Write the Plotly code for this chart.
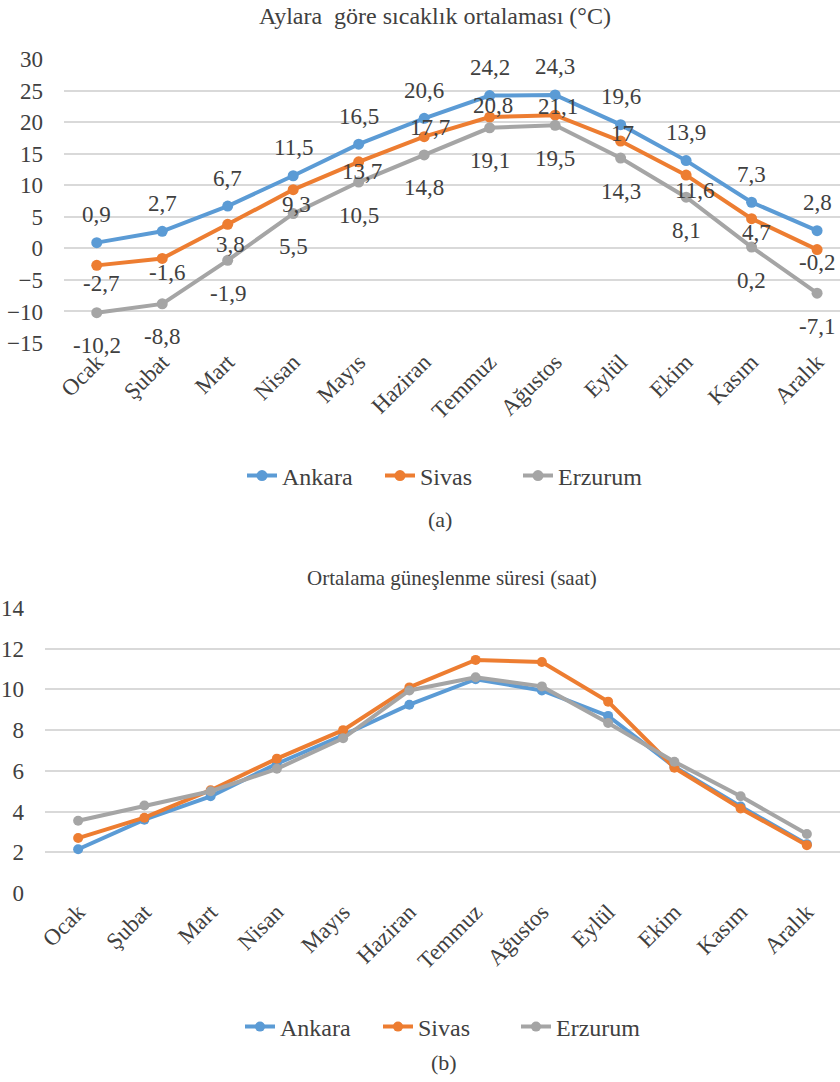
import plotly.graph_objects as go

months = ["Ocak", "Şubat", "Mart", "Nisan", "Mayıs", "Haziran", "Temmuz",
          "Ağustos", "Eylül", "Ekim", "Kasım", "Aralık"]

temp_ankara = [0.9, 2.7, 6.7, 11.5, 16.5, 20.6, 24.2, 24.3, 19.6, 13.9, 7.3, 2.8]
temp_sivas = [-2.7, -1.6, 3.8, 9.3, 13.7, 17.7, 20.8, 21.1, 17, 11.6, 4.7, -0.2]
temp_erzurum = [-10.2, -8.8, -1.9, 5.5, 10.5, 14.8, 19.1, 19.5, 14.3, 8.1, 0.2, -7.1]

sun_ankara = [2.15, 3.6, 4.75, 6.35, 7.75, 9.25, 10.5, 9.95, 8.7, 6.2, 4.25, 2.4]
sun_sivas = [2.7, 3.7, 5.05, 6.6, 8.0, 10.1, 11.45, 11.35, 9.4, 6.15, 4.15, 2.35]
sun_erzurum = [3.55, 4.3, 5.0, 6.1, 7.6, 9.95, 10.6, 10.15, 8.35, 6.45, 4.75, 2.9]

temp_ticks = [-15, -10, -5, 0, 5, 10, 15, 20, 25, 30]
sun_ticks = [0, 2, 4, 6, 8, 10, 12, 14]

names = ["Ankara", "Sivas", "Erzurum"]
colors = ["#5B9BD5", "#ED7D31", "#A5A5A5"]

# label placement (style only): vertical offsets in px for each series' data labels
ankara_label_dy = [28] * 12
sivas_label_dy = [-18, -14, -20, -15, -10, 9, 12, 9, 8, -15, -14, -13]
erzurum_label_dy = [-33] * 12
sivas_label_dx = [4, 5, 3, 3, 3, 6, 3, 3, 2, 8, 5, 0]

FONT = "Liberation Serif"
TXT = "#404040"


def fmt(v):
    if float(v).is_integer():
        return str(int(v))
    return ("%g" % v).replace(".", ",")


fig = go.Figure()

temp_series = [temp_ankara, temp_sivas, temp_erzurum]
for name, col, vals in zip(names, colors, temp_series):
    fig.add_trace(go.Scatter(
        x=months, y=vals, name=name, mode="lines+markers",
        line=dict(color=col, width=4), marker=dict(color=col, size=11),
        xaxis="x", yaxis="y", legend="legend", cliponaxis=False,
    ))

sun_series = [sun_ankara, sun_sivas, sun_erzurum]
for name, col, vals in zip(names, colors, sun_series):
    fig.add_trace(go.Scatter(
        x=months, y=vals, name=name, mode="lines+markers",
        line=dict(color=col, width=4), marker=dict(color=col, size=10),
        xaxis="x2", yaxis="y2", legend="legend2", cliponaxis=False,
    ))

annotations = []
label_dy = [ankara_label_dy, sivas_label_dy, erzurum_label_dy]
label_dx = [[0] * 12, sivas_label_dx, [0] * 12]
for vals, dys, dxs in zip(temp_series, label_dy, label_dx):
    for m, v, dy, dx in zip(months, vals, dys, dxs):
        annotations.append(dict(
            x=m, y=v, xref="x", yref="y", text=fmt(v), showarrow=False,
            xanchor="center", yanchor="middle", yshift=dy, xshift=dx,
            font=dict(family=FONT, size=23, color=TXT)))

H = 1082.0
W = 840.0

annotations += [
    dict(text="Aylara  göre sıcaklık ortalaması (°C)", x=0.518, y=1 - 16 / H,
         xref="paper", yref="paper", showarrow=False, yanchor="middle",
         font=dict(family=FONT, size=24, color=TXT)),
    dict(text="(a)", x=0.524, y=1 - 519 / H, xref="paper", yref="paper",
         showarrow=False, yanchor="middle",
         font=dict(family=FONT, size=22, color=TXT)),
    dict(text="Ortalama güneşlenme süresi (saat)", x=0.538, y=1 - 578 / H,
         xref="paper", yref="paper", showarrow=False, yanchor="middle",
         font=dict(family=FONT, size=21, color=TXT)),
    dict(text="(b)", x=0.529, y=1 - 1062 / H, xref="paper", yref="paper",
         showarrow=False, yanchor="middle",
         font=dict(family=FONT, size=22, color=TXT)),
]

xaxis_common = dict(showline=False, zeroline=False, ticks="", automargin=False,
                    showgrid=False, tickangle=-45,
                    tickfont=dict(family=FONT, size=23, color=TXT))
yaxis_common = dict(showline=False, zeroline=False, ticks="", automargin=False,
                    showgrid=True, gridcolor="#D9D9D9", gridwidth=2,
                    ticklabelstandoff=20,
                    tickfont=dict(family=FONT, size=23, color=TXT))

legend_common = dict(orientation="h", xanchor="left", yanchor="middle",
                     font=dict(family=FONT, size=24, color=TXT),
                     itemwidth=30, entrywidth=93, bgcolor="rgba(0,0,0,0)")

fig.update_layout(
    width=840, height=1082,
    margin=dict(l=0, r=0, t=0, b=0),
    paper_bgcolor="white", plot_bgcolor="white",
    font=dict(family=FONT, color=TXT),
    xaxis=dict(domain=[64 / W, 1.0], range=[-0.5, 11.35], anchor="y",
               **xaxis_common),
    yaxis=dict(domain=[1 - 343 / H, 1 - 59 / H], range=[-15, 30], anchor="x",
               tickvals=temp_ticks, **yaxis_common),
    xaxis2=dict(domain=[45 / W, 1.0], range=[-0.5, 11.5], anchor="y2",
                **xaxis_common),
    yaxis2=dict(domain=[1 - 893 / H, 1 - 608 / H], range=[0, 14], anchor="x2",
                tickvals=sun_ticks, **yaxis_common),
    legend=dict(x=242 / W, y=1 - 476 / H, **legend_common),
    legend2=dict(x=240 / W, y=1 - 1027 / H, **legend_common),
    showlegend=True,
    annotations=annotations,
)

fig.write_html(
    "out.html",
    config={"displayModeBar": False},
    post_script="document.body.style.margin='0';document.body.style.overflow='hidden';",
)
